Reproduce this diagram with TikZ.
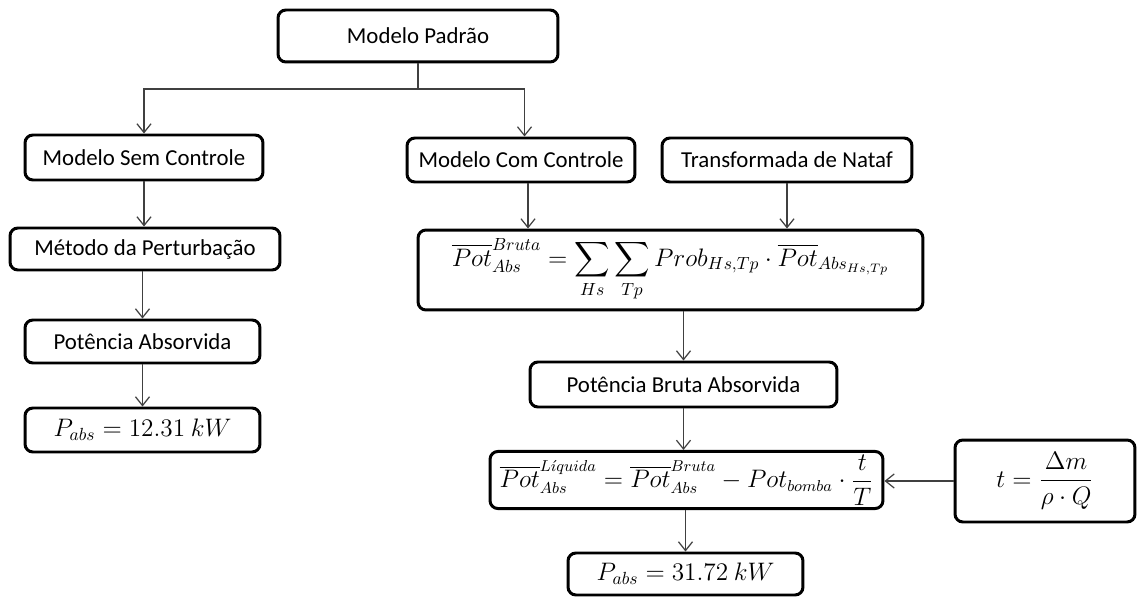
\documentclass[tikz,border=0pt]{standalone}
\usepackage{amsmath}
\usepackage{amssymb}
\usepackage{fontspec}
\setmainfont{Carlito}
\usetikzlibrary{arrows.meta}

\tikzset{
  caixa/.style={draw, line width=1.7pt, rounded corners=4.5pt, align=center,
    inner sep=2pt, font=\fontsize{13}{16}\selectfont},
  formula/.style={caixa, font=\fontsize{14}{16}\selectfont},
  seta/.style={-{Straight Barb[length=5pt,width=8pt]}, line width=0.7pt, black!75},
}

\begin{document}
\begin{tikzpicture}[x=0.02cm, y=-0.02cm]
    \useasboundingbox (0,0) rectangle (1137,598);

    % Caixas
    \node[caixa, minimum width=5.6cm, minimum height=1.04cm] (padrao) at (418,36) {Modelo Padrão};
    \node[caixa, minimum width=4.76cm, minimum height=0.9cm] (semc) at (144,157.5) {Modelo Sem Controle};
    \node[caixa, minimum width=4.56cm, minimum height=0.88cm] (comc) at (521,160) {Modelo Com Controle};
    \node[caixa, minimum width=5cm, minimum height=0.88cm] (nataf) at (787,160) {Transformada de Nataf};
    \node[caixa, minimum width=5.4cm, minimum height=0.84cm] (metodo) at (145,249) {Método da Perturbação};
    \node[caixa, minimum width=4.7cm, minimum height=0.86cm] (potabs) at (142.5,341.5) {Potência Absorvida};
    \node[formula, minimum width=4.7cm, minimum height=0.88cm] (pesq) at (142.5,430) {$P_{abs} = 12.31\ kW$};
    \node[formula, minimum width=10.1cm, minimum height=1.6cm] (soma) at (670.5,270)
        {$\displaystyle \overline{Pot}^{Bruta}_{Abs} = \sum_{Hs}\sum_{Tp} Prob_{Hs,Tp}\cdot\overline{Pot}_{Abs_{Hs,Tp}}$};
    \node[caixa, minimum width=6.14cm, minimum height=0.9cm] (bruta) at (683.5,384.5) {Potência Bruta Absorvida};
    \node[caixa, minimum width=7.86cm, minimum height=1.08cm, font=\fontsize{13.5}{16}\selectfont] (liq) at (686.5,480)
        {$\overline{Pot}^{L\acute{\imath}quida}_{Abs} = \overline{Pot}^{Bruta}_{Abs} - Pot_{bomba}\cdot\dfrac{t}{T}$};
    \node[formula, minimum width=3.6cm, minimum height=1.64cm] (tbox) at (1045,481)
        {$t = \dfrac{\Delta m}{\rho\cdot Q}$};
    \node[formula, minimum width=4.7cm, minimum height=0.84cm] (pdir) at (685.5,574) {$P_{abs} = 31.72\ kW$};

    % Setas
    \coordinate (ramo) at (418,89);
    \draw[seta] (padrao.south) -- (ramo) -| (semc.north);
    \draw[seta] (ramo) -| ([xshift=2pt]comc.north);
    \draw[seta] (semc.south) -- (semc.south |- metodo.north);
    \draw[seta] (potabs.north |- metodo.south) -- (potabs.north);
    \draw[seta] (potabs.south) -- (pesq.north);
    \draw[seta] ([xshift=4pt]comc.south) -- ([xshift=4pt]comc.south |- soma.north);
    \draw[seta] (nataf.south) -- (nataf.south |- soma.north);
    \draw[seta] (bruta.north |- soma.south) -- (bruta.north);
    \draw[seta] (bruta.south) -- (bruta.south |- liq.north);
    \draw[seta] (pdir.north |- liq.south) -- (pdir.north);
    \draw[seta] (tbox.west) -- (tbox.west -| liq.east);
\end{tikzpicture}
\end{document}
